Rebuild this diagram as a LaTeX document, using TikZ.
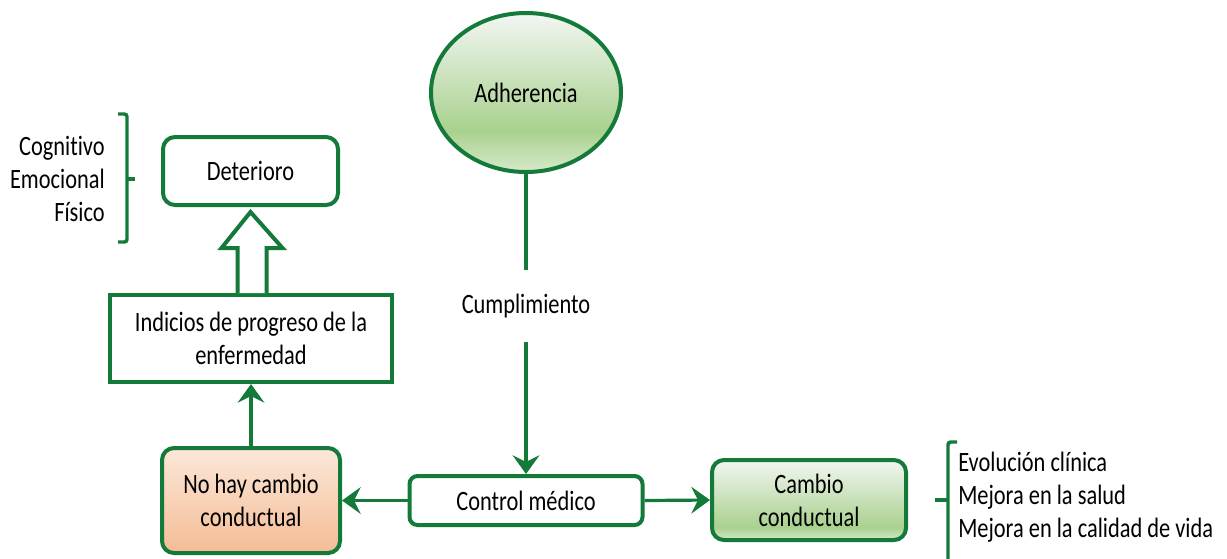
\documentclass[tikz,border=0pt]{standalone}
\usepackage{fontspec}
\setmainfont[FakeStretch=0.8,Ligatures={NoCommon,NoRequired,NoContextual}]{Carlito}
\usetikzlibrary{arrows.meta,shapes.geometric,calc}
\definecolor{dkgreen}{HTML}{137A3A}
\definecolor{gA}{HTML}{D6EACB}
\definecolor{gB}{HTML}{A9D18E}
\definecolor{gC}{HTML}{F3F6F3}
\definecolor{oA}{HTML}{F4BC95}
\definecolor{oC}{HTML}{FCE8DA}
\pgfdeclareverticalshading{ellshade}{100bp}{color(0bp)=(gA); color(25bp)=(gA); color(38bp)=(gB); color(75bp)=(gC); color(100bp)=(gC)}
\pgfdeclareverticalshading{boxshade}{100bp}{color(0bp)=(gA); color(25bp)=(gA); color(33bp)=(gB); color(75bp)=(gC); color(100bp)=(gC)}
\begin{document}
\begin{tikzpicture}[x=0.75pt,y=-0.75pt,
  font=\fontsize{21}{24.75}\selectfont,
  box/.style={draw=dkgreen,line width=3pt,align=center,inner sep=0pt},
  conn/.style={draw=dkgreen,line width=2.4pt,-{Stealth[length=14pt,width=20pt,inset=5pt]}},
  plain/.style={draw=dkgreen,line width=2.4pt},
  brack/.style={draw=dkgreen,line width=2.6pt,rounded corners=2pt}]
\useasboundingbox (0,0) rectangle (1227,558);
% nodes
\node[box,ellipse,minimum width=142.5pt,minimum height=119.25pt,shading=ellshade] (adh) at (526,92.5) {Adherencia};
\node[inner sep=0pt,minimum height=54pt] (cum) at (526,306) {Cumplimiento};
\node[box,rounded corners=6pt,minimum width=174.75pt,minimum height=36.75pt] (ctl) at (526,500.5) {Control médico};
\node[box,rounded corners=9pt,minimum width=133.5pt,minimum height=78.75pt,top color=oC,bottom color=oA] (nohay) at (251,500.5) {No hay cambio\\conductual};
\node[box,rounded corners=9pt,minimum width=145.5pt,minimum height=60pt,shading=boxshade] (camb) at (809,500) {Cambio\\conductual};
\node[box,minimum width=211.5pt,minimum height=65.25pt] (ind) at (251,338.5) {Indicios de progreso de la\\enfermedad};
\node[box,rounded corners=9pt,minimum width=131.25pt,minimum height=51pt] (det) at (250.5,171) {Deterioro};
\node[align=right,inner sep=0pt,anchor=east] (left) at (105,179) {Cognitivo\\Emocional\\Físico};
\node[align=left,inner sep=0pt,anchor=west] (right) at (958,497) {Evolución clínica\\Mejora en la salud\\Mejora en la calidad de vida};
% connectors
\draw[plain] (adh.south) -- (cum.north);
\draw[conn] (cum.south) -- (ctl.north);
\draw[conn] (ctl.west) -- (nohay.east);
\draw[conn] (ctl.east) -- (camb.west);
\draw[conn] (nohay.north) -- (ind.south);
% hollow block arrow
\draw[draw=dkgreen,fill=white,line width=3pt,line join=miter]
  ($(ind.north)+(-13.5,0)$) -- ++(0,-45) -- ++(-16,0) -- ($(det.south)+(0,5)$)
  -- ($(ind.north)+(31.5,-45)$) -- ++(-16,0) -- ($(ind.north)+(15.5,0)$);
% brackets
\coordinate (lb1) at (118,114);
\coordinate (lb2) at (118,242);
\draw[brack] (lb1) -- (127,114) -- (127,242) -- (lb2);
\draw[brack] (127,179) -- (135,179);
\coordinate (rb1) at (957,442);
\draw[brack] (rb1) -- (948,442) -- (948,562);
\draw[brack] (948,500) -- (935,500);
\end{tikzpicture}
\end{document}
